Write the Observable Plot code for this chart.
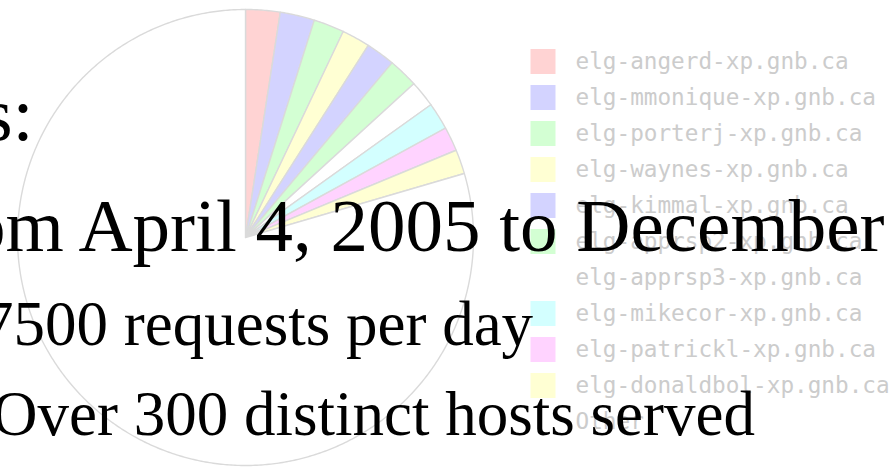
<!DOCTYPE html>
<html>
<head>
<meta charset="utf-8">
<script src="https://cdn.jsdelivr.net/npm/d3@7"></script>
<script src="https://cdn.jsdelivr.net/npm/@observablehq/plot@0.6"></script>
<style>
  html, body { margin: 0; padding: 0; background: #fff; }
  #wrap { position: relative; width: 890px; height: 469px; overflow: hidden; background: #fff; }
  #pie, #legend { position: absolute; top: 0; }
  #pie { left: 0; }
  #legend { left: 510px; }
  .slide { position: absolute; white-space: nowrap; font-family: "Liberation Serif", "Times New Roman", serif; color: #000; line-height: 1; z-index: 5; }
</style>
</head>
<body>
<div id="wrap">
  <div id="pie"></div>
  <div id="legend"></div>
  <div class="slide" style="font-size:76px; left:-17px; top:76px;">s:</div>
  <div class="slide" style="font-size:75px; left:-32px; top:188px;">om April 4, 2005 to December</div>
  <div class="slide" style="font-size:63px; left:-18px; top:293px;">7500 requests per day</div>
  <div class="slide" style="font-size:63px; left:-8px; top:383px;">Over 300 distinct hosts served</div>
</div>
<script>
// Hosts (legend order, clockwise from 12 o'clock)
const hosts = [
  "elg-angerd-xp.gnb.ca",
  "elg-mmonique-xp.gnb.ca",
  "elg-porterj-xp.gnb.ca",
  "elg-waynes-xp.gnb.ca",
  "elg-kimmal-xp.gnb.ca",
  "elg-apprsp2-xp.gnb.ca",
  "elg-apprsp3-xp.gnb.ca",
  "elg-mikecor-xp.gnb.ca",
  "elg-patrickl-xp.gnb.ca",
  "elg-donaldbol-xp.gnb.ca",
  "Other"
];
// Share of requests (%)
const shares = [2.44, 2.44, 2.17, 2.00, 2.06, 2.11, 1.89, 1.92, 1.72, 1.72, 79.53];
// Slice colours
const colors = ["#ffd3d3", "#d3d3ff", "#d3ffd3", "#ffffd3", "#d3d3ff", "#d3ffd3", "#ffffff", "#d3ffff", "#ffd3ff", "#ffffd3", "#ffffff"];

const slices = hosts.map((h, i) => ({host: h, share: shares[i]}));
const arcs = d3.pie().sort(null).value(d => d.share)(slices);
const pts = arcs.flatMap((a) => {
  const n = Math.max(2, Math.ceil((a.endAngle - a.startAngle) / (Math.PI / 360)));
  const ring = [{host: a.data.host, x: 0, y: 0}];
  for (let k = 0; k <= n; k++) {
    const t = a.startAngle + (a.endAngle - a.startAngle) * k / n;
    ring.push({host: a.data.host, x: Math.sin(t), y: Math.cos(t)});
  }
  ring.push({host: a.data.host, x: 0, y: 0});
  return ring;
});

const colorScale = {domain: hosts, range: colors, type: "ordinal"};

const pie = Plot.plot({
  width: 890, height: 469,
  marginLeft: 17, marginRight: 417, marginTop: 9, marginBottom: 4,
  x: {domain: [-1, 1], axis: null},
  y: {domain: [-1, 1], axis: null},
  color: colorScale,
  style: {background: "transparent"},
  marks: [
    Plot.line(pts, {x: "x", y: "y", z: "host", fill: "host", stroke: "#dadada", strokeWidth: 1.4, strokeLinejoin: "round"})
  ]
});
document.getElementById("pie").appendChild(pie);

const legend = Plot.plot({
  width: 380, height: 469,
  marginLeft: 32.5, marginRight: 0, marginTop: 58, marginBottom: 46,
  x: {axis: null},
  y: {type: "point", domain: hosts, padding: 0, axis: null},
  color: colorScale,
  style: {background: "transparent"},
  marks: [
    Plot.dot(slices, {y: "host", frameAnchor: "left", symbol: "square", r: 14.1, fill: "host", stroke: null}),
    Plot.text(slices, {y: "host", text: "host", frameAnchor: "left", dx: 32.5, textAnchor: "start",
      fill: "#cccccc", fontSize: 22.7, fontFamily: "DejaVu Sans Mono"})
  ]
});
document.getElementById("legend").appendChild(legend);
</script>
</body>
</html>
